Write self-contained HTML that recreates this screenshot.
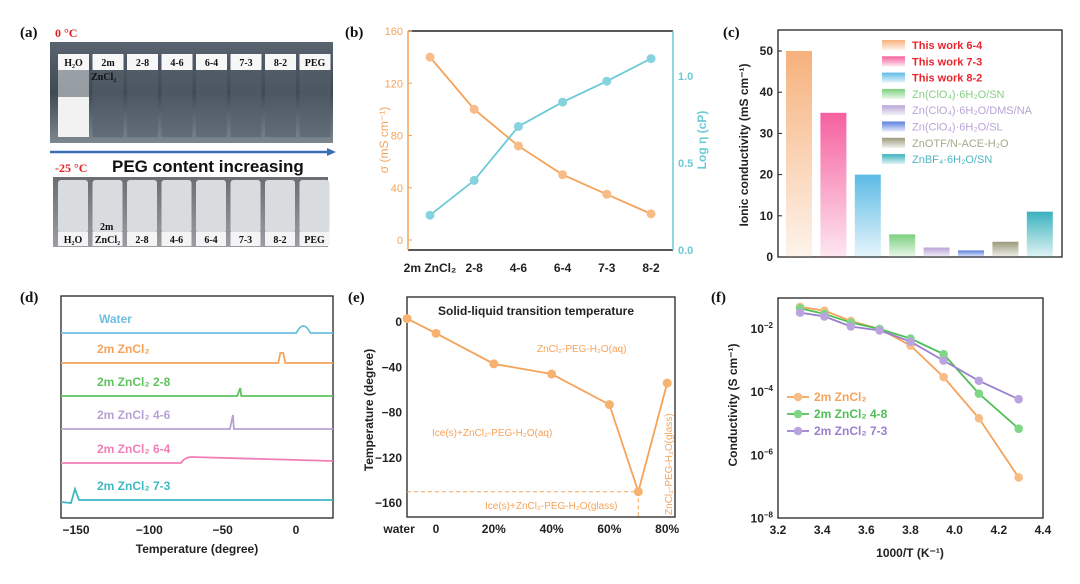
<!DOCTYPE html>
<html><head><meta charset="utf-8"><style>
body{margin:0;background:#fff;width:1080px;height:579px;overflow:hidden}
svg{font-family:"Liberation Sans",sans-serif}
.t{font-size:12px;font-weight:bold;fill:#222}
.pl{font-family:"Liberation Serif",serif;font-weight:bold;font-size:15px;fill:#111}
</style></head><body>
<svg id="s" width="1080" height="579" xmlns="http://www.w3.org/2000/svg">
<defs>
<linearGradient id="ph1" x1="0" y1="0" x2="0" y2="1"><stop offset="0" stop-color="#5a6470"/><stop offset="0.5" stop-color="#3f4a55"/><stop offset="1" stop-color="#7d8790"/></linearGradient>
<linearGradient id="ph2" x1="0" y1="0" x2="0" y2="1"><stop offset="0" stop-color="#6a6e72"/><stop offset="1" stop-color="#9a9ea2"/></linearGradient>
</defs>
<g>
<text class="pl" x="20" y="37">(a)</text>
<text x="55" y="37" font-family="Liberation Serif" font-weight="bold" font-size="12" fill="#e02020">0 °C</text>
<rect x="50" y="42" width="283" height="101" fill="url(#ph1)"/>
<g id="vials1"></g>
<line x1="50" y1="152" x2="330" y2="152" stroke="#3a6fb5" stroke-width="2.5"/>
<polygon points="336,152 327,148 327,156" fill="#3a6fb5"/>
<text x="55" y="172" font-family="Liberation Serif" font-weight="bold" font-size="12" fill="#e02020">-25 °C</text>
<text x="112" y="172" font-weight="bold" font-size="17" fill="#111">PEG content increasing</text>
<rect x="53" y="177" width="275" height="70" fill="url(#ph2)"/>
<g id="vials2"></g>
</g>
<g id="pb"></g><g id="pc"></g><g id="pd"></g><g id="pe"></g><g id="pf"></g>
</svg>
<script>
const NS='http://www.w3.org/2000/svg';
function mk(p,tag,at,txt){const e=document.createElementNS(NS,tag);for(const k in at)e.setAttribute(k,at[k]);if(txt!==undefined)e.textContent=txt;p.appendChild(e);return e;}
const vialNames=['H₂O','2m','2-8','4-6','6-4','7-3','8-2','PEG'];
const v1=document.getElementById('vials1'),v2=document.getElementById('vials2');
vialNames.forEach((n,i)=>{
 const x=58+i*34.5;
 let r=mk(v1,'rect',{x:x,y:57,width:31,height:80,fill:i==0?'#cfd3d6':'#56616b',opacity:0.6});
 
 if(i==0){let w=mk(v1,'rect',{x:x,y:97,width:31,height:40,fill:'#f2f2f2'});}
 let c=mk(v1,'rect',{x:x,y:54,width:31,height:16,fill:'#f7f7f7'});
 let t=mk(v1,'text',{x:x+15.5,y:66,'text-anchor':'middle','font-family':'Liberation Serif','font-weight':'bold','font-size':'10',fill:'#111'},n);
 
 let r2=mk(v2,'rect',{x:x,y:180,width:30,height:53,fill:'#d9dcdf',rx:3});
 
 let c2=mk(v2,'rect',{x:x,y:232,width:30,height:14,fill:'#f4f4f4'});
 let t2=mk(v2,'text',{x:x+15,y:243,'text-anchor':'middle','font-family':'Liberation Serif','font-weight':'bold','font-size':'10',fill:'#111'},n=='2m'?'ZnCl₂':n);
 
});
let zc=mk(v1,'text',{x:91,y:80,'font-family':'Liberation Serif','font-weight':'bold','font-size':'10',fill:'#111'},'ZnCl₂');
let zm=mk(v2,'text',{x:100,y:230,'font-family':'Liberation Serif','font-weight':'bold','font-size':'10',fill:'#111'},'2m');

const bCats=['2m ZnCl₂','2-8','4-6','6-4','7-3','8-2'];
const bSigma=[140,100,72,50,35,20];
const bLogEta=[0.2,0.4,0.71,0.85,0.97,1.1];
const bLeftTicks=[0,40,80,120,160];
const bRightTicks=[0.0,0.5,1.0];
const cVals=[50,35,20,5.5,2.3,1.6,3.7,11];
const cNames=['This work 6-4','This work 7-3','This work 8-2','Zn(ClO₄)·6H₂O/SN','Zn(ClO₄)·6H₂O/DMS/NA','Zn(ClO₄)·6H₂O/SL','ZnOTF/N-ACE-H₂O','ZnBF₄·6H₂O/SN'];
const cTicks=[0,10,20,30,40,50];
const dNames=['Water','2m ZnCl₂','2m ZnCl₂ 2-8','2m ZnCl₂ 4-6','2m ZnCl₂ 6-4','2m ZnCl₂ 7-3'];
const dPeaks=[5,-10,-38,-43,-73,-150];
const dTicks=[-150,-100,-50,0];
const eX=[-10,0,20,40,60,70,80];
const eY=[3,-10,-37,-46,-73,-150,-54];
const eTicks=[0,-40,-80,-120,-160];
const eXLabels=['water','0','20%','40%','60%','80%'];
const eXLabelPos=[-10,0,20,40,60,80];
const fX=[3.30,3.41,3.53,3.66,3.80,3.95,4.11,4.29];
const fOrange=[5e-2,3.8e-2,1.8e-2,1e-2,3e-3,3e-4,1.5e-5,2e-7];
const fGreen=[4.5e-2,3e-2,1.6e-2,1e-2,5e-3,1.6e-3,9e-5,7e-6];
const fPurple=[3.3e-2,2.5e-2,1.2e-2,9e-3,4e-3,1e-3,2.3e-4,6e-5];
const fXTicks=[3.2,3.4,3.6,3.8,4.0,4.2,4.4];
const fYExp=[-2,-4,-6,-8];

const OR='#f5a35a',TE='#6ccad6';
(function(){
 const g=document.getElementById('pb');
 
 const L=408,R=673,T=31,B=250;
 const xb=i=>430+i*44.2, yl=v=>240-v*209/160, yr=v=>250-v*174;
 let t=mk(g,'text',{x:345,y:37,class:'pl'},'(b)');
 let a=mk(g,'line',{x1:L,y1:T,x2:R,y2:T,stroke:'#222','stroke-width':1.5});
 a=mk(g,'line',{x1:L,y1:B,x2:R,y2:B,stroke:'#222','stroke-width':1.5});
 a=mk(g,'line',{x1:L,y1:T,x2:L,y2:B,stroke:OR,'stroke-width':1.5});
 a=mk(g,'line',{x1:R,y1:T,x2:R,y2:B,stroke:TE,'stroke-width':1.5});
 bLeftTicks.forEach(v=>{let e=mk(g,'text',{x:L-5,y:yl(v)+4,'text-anchor':'end','font-size':11,fill:OR},v);
  let l=mk(g,'line',{x1:L,y1:yl(v),x2:L+4,y2:yl(v),stroke:OR});});
 bRightTicks.forEach(v=>{let e=mk(g,'text',{x:R+5,y:yr(v)+4,'font-size':11,fill:TE,'font-weight':'bold'},v.toFixed(1));});
 bCats.forEach((c,i)=>{let e=mk(g,'text',{x:xb(i),y:272,'text-anchor':'middle',class:'t','font-size':13},c);});
 let y1=mk(g,'text',{x:388,y:140,'text-anchor':'middle','font-size':12,fill:OR,transform:'rotate(-90 388 140)'},'σ (mS cm⁻¹)');
 let y2=mk(g,'text',{x:706,y:140,'text-anchor':'middle','font-size':12,'font-weight':'bold',fill:TE,transform:'rotate(-90 706 140)'},'Log η (cP)');
 let p=mk(g,'polyline',{points:bSigma.map((v,i)=>xb(i)+','+yl(v)).join(' '),fill:'none',stroke:OR,'stroke-width':1.8});
 p=mk(g,'polyline',{points:bLogEta.map((v,i)=>xb(i)+','+yr(v)).join(' '),fill:'none',stroke:TE,'stroke-width':1.8});
 bSigma.forEach((v,i)=>{let c=mk(g,'circle',{cx:xb(i),cy:yl(v),r:4.5,fill:'#f8bc88'});});
 bLogEta.forEach((v,i)=>{let c=mk(g,'circle',{cx:xb(i),cy:yr(v),r:4.5,fill:'#86d3dd'});});
})();
(function(){
 const g=document.getElementById('pc');
 
 const L=778,R=1062,T=30,B=257;
 const yc=v=>B-v*4.12, xc=i=>799+i*34.4;
 const cols=['#f6b17c','#f5609f','#5cbbe6','#7ccf7f','#b9a4d6','#5b7fe0','#9a9a7c','#3ab2be'];
 const txtc=['#e8262e','#e8262e','#e8262e','#86cf86','#b9a4d6','#b9a4d6','#a8a88a','#4fb7c3'];
 const defs=document.querySelector('defs');
 cols.forEach((c,i)=>{const lg=mk(defs,'linearGradient',{id:'cg'+i,x1:0,y1:0,x2:0,y2:1});mk(lg,'stop',{offset:0,'stop-color':c});mk(lg,'stop',{offset:1,'stop-color':c,'stop-opacity':0.15});});
 let t=mk(g,'text',{x:723,y:37,class:'pl'},'(c)');
 let f=mk(g,'rect',{x:L,y:T,width:R-L,height:B-T,fill:'none',stroke:'#222','stroke-width':1.3});
 cTicks.forEach(v=>{let e=mk(g,'text',{x:L-5,y:yc(v)+4,'text-anchor':'end',class:'t'},v);
  let l=mk(g,'line',{x1:L,y1:yc(v),x2:L+4,y2:yc(v),stroke:'#222'});});
 let yt=mk(g,'text',{x:748,y:145,'text-anchor':'middle',class:'t','font-size':13,transform:'rotate(-90 748 145)'},'Ionic conductivity (mS cm⁻¹)');
 cVals.forEach((v,i)=>{let r=mk(g,'rect',{x:xc(i)-13,y:yc(v),width:26,height:B-yc(v),fill:'url(#cg'+i+')'});});
 cNames.forEach((n,i)=>{const y=45+i*16.3;
  let s=mk(g,'rect',{x:882,y:y-5,width:23,height:10,fill:'url(#cg'+i+')'});
  let e=mk(g,'text',{x:912,y:y+4,'font-size':11,'font-weight':i<3?'bold':'normal',fill:txtc[i]},n);});
})();
(function(){
 const g=document.getElementById('pd');
 
 const L=61,R=333,T=296,B=518;
 const xd=v=>296+v*220/150;
 const base=[333,363,396,429,463,500];
 const cols=['#6cbfe0','#f5a35a','#5fc45f','#b7a3d3','#f07fb7','#3fb8c2'];
 let t=mk(g,'text',{x:20,y:302,class:'pl'},'(d)');
 let f=mk(g,'rect',{x:L,y:T,width:R-L,height:B-T,fill:'none',stroke:'#222','stroke-width':1.3});
 dTicks.forEach(v=>{let e=mk(g,'text',{x:xd(v),y:534,'text-anchor':'middle',class:'t','font-size':13},v==0?'0':'−'+(-v));});
 let xt=mk(g,'text',{x:197,y:553,'text-anchor':'middle',class:'t','font-size':14},'Temperature (degree)');
 dNames.forEach((n,i)=>{const y=base[i],px=xd(dPeaks[i]);let d;
  if(i==0)d=`M${L} ${y} L${px-7} ${y} Q${px} ${y-14} ${px+7} ${y} L${R} ${y}`;
  else if(i==1)d=`M${L} ${y} L${px-3} ${y} L${px-1} ${y-10} L${px+2} ${y-10} L${px+4} ${y} L${R} ${y}`;
  else if(i==2||i==3)d=`M${L} ${y} L${px-3} ${y} L${px} ${y-(i==2?8:14)} L${px+1} ${y} L${R} ${y}`;
  else if(i==4)d=`M${L} ${y} L${px-8} ${y} Q${px-4} ${y-6} ${px+3} ${y-6} L${R} ${y-2}`;
  else d=`M${L} ${y+2} L${px-5} ${y+3} L${px-1} ${y-11} L${px+3} ${y} L${R} ${y}`;
  let p=mk(g,'path',{d:d,fill:'none',stroke:cols[i],'stroke-width':1.8});
  let e=mk(g,'text',{x:i==0?99:97,y:y-10,'font-size':12,'font-weight':'bold',fill:cols[i]},n);});
})();
(function(){
 const g=document.getElementById('pe');
 
 const L=407,R=675,T=297,B=517;
 const xe=v=>436+v*2.89, ye=v=>322-v*181/160;
 let t=mk(g,'text',{x:348,y:302,class:'pl'},'(e)');
 let f=mk(g,'rect',{x:L,y:T,width:R-L,height:B-T,fill:'none',stroke:'#222','stroke-width':1.3});
 eTicks.forEach(v=>{let e=mk(g,'text',{x:L-5,y:ye(v)+4,'text-anchor':'end',class:'t'},v==0?'0':'−'+(-v));});
 eXLabels.forEach((n,i)=>{let e=mk(g,'text',{x:xe(eXLabelPos[i])+(i==0?-8:0),y:533,'text-anchor':'middle',class:'t','font-size':13},n);});
 let yt=mk(g,'text',{x:373,y:410,'text-anchor':'middle',class:'t','font-size':13,transform:'rotate(-90 373 410)'},'Temperature (degree)');
 let ti=mk(g,'text',{x:438,y:315,class:'t','font-size':12},'Solid-liquid transition temperature');
 const mi=eY.indexOf(Math.min(...eY));
 let dl=mk(g,'polyline',{points:`${L},${ye(eY[mi])} ${xe(eX[mi])},${ye(eY[mi])} ${xe(eX[mi])},${B}`,fill:'none',stroke:OR,'stroke-dasharray':'4 3','stroke-width':1});
 let p=mk(g,'polyline',{points:eX.map((x,i)=>xe(x)+','+ye(eY[i])).join(' '),fill:'none',stroke:OR,'stroke-width':1.8});
 eX.forEach((x,i)=>{let c=mk(g,'circle',{cx:xe(x),cy:ye(eY[i]),r:4.5,fill:'#f8b270'});});
 const lab=[[537,352,'ZnCl₂-PEG-H₂O(aq)'],[432,436,'Ice(s)+ZnCl₂-PEG-H₂O(aq)'],[485,509,'Ice(s)+ZnCl₂-PEG-H₂O(glass)']];
 lab.forEach(l=>{let e=mk(g,'text',{x:l[0],y:l[1],'font-size':10,fill:OR},l[2]);});
 let v=mk(g,'text',{x:672,y:515,'font-size':10,fill:OR,transform:'rotate(-90 672 515)'},'ZnCl₂-PEG-H₂O(glass)');
})();
(function(){
 const g=document.getElementById('pf');
 
 const L=778,R=1043,T=298,B=518;
 const xf=v=>778+(v-3.2)*220.8, yf=v=>329-(Math.log10(v)+2)*31.6;
 let t=mk(g,'text',{x:711,y:302,class:'pl'},'(f)');
 let f=mk(g,'rect',{x:L,y:T,width:R-L,height:B-T,fill:'none',stroke:'#222','stroke-width':1.3});
 fXTicks.forEach(v=>{let e=mk(g,'text',{x:xf(v),y:534,'text-anchor':'middle',class:'t','font-size':12},v.toFixed(1));});
 fYExp.forEach(p=>{const y=yf(Math.pow(10,p));let e=mk(g,'text',{x:L-5,y:y+4,'text-anchor':'end',class:'t'});
  e.appendChild(document.createTextNode('10'));mk(e,'tspan',{dy:-5,'font-size':8},String(p).replace('-','−'));});
 let xt=mk(g,'text',{x:910,y:557,'text-anchor':'middle',class:'t','font-size':13},'1000/T (K⁻¹)');
 let yt=mk(g,'text',{x:737,y:405,'text-anchor':'middle',class:'t','font-size':13,transform:'rotate(-90 737 405)'},'Conductivity (S cm⁻¹)');
 const ser=[[fOrange,'#f5a35a','#f8bd86','2m ZnCl₂'],[fGreen,'#4fbf55','#7fd684','2m ZnCl₂ 4-8'],[fPurple,'#9a7fcf','#b9a4e0','2m ZnCl₂ 7-3']];
 ser.forEach((s,k)=>{
  let p=mk(g,'polyline',{points:fX.map((x,i)=>xf(x)+','+yf(s[0][i])).join(' '),fill:'none',stroke:s[1],'stroke-width':1.8});
  fX.forEach((x,i)=>{let c=mk(g,'circle',{cx:xf(x),cy:yf(s[0][i]),r:4.3,fill:s[2]});});
  const ly=397+k*17;
  let ll=mk(g,'line',{x1:787,y1:ly,x2:809,y2:ly,stroke:s[1],'stroke-width':1.8});
  let lc=mk(g,'circle',{cx:798,cy:ly,r:4.3,fill:s[2]});
  let lt=mk(g,'text',{x:814,y:ly+4,'font-size':12,'font-weight':'bold',fill:s[1]},s[3]);
 });
})();
</script>
</body></html>
